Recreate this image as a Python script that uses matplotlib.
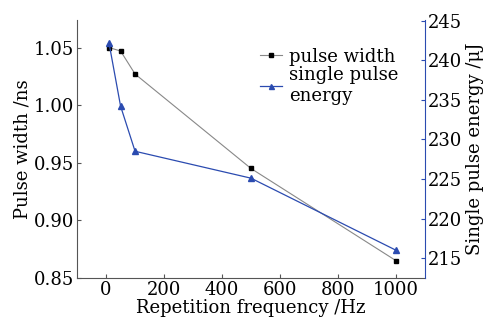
import matplotlib.pyplot as plt

freq = [10, 50, 100, 500, 1000]
pulse_width = [1.050, 1.047, 1.027, 0.945, 0.865]
pulse_energy = [242.2, 234.2, 228.5, 225.1, 216.0]

plt.rcParams['font.family'] = 'DejaVu Serif'
plt.rcParams['font.size'] = 13

fig, ax = plt.subplots(figsize=(5.04, 3.32), dpi=100)
fig.subplots_adjust(left=0.153, right=0.843, top=0.94, bottom=0.163)
ax2 = ax.twinx()

l1, = ax.plot(freq, pulse_width, color='#888888', linewidth=0.8, marker='s',
              markersize=3.5, markerfacecolor='black', markeredgecolor='black',
              label='pulse width')
l2, = ax2.plot(freq, pulse_energy, color='#2b4bb0', linewidth=0.9, marker='^',
               markersize=4.5, markerfacecolor='#2b4bb0', markeredgecolor='#2b4bb0',
               label='single pulse\nenergy')

ax.set_xlim(-100, 1100)
ax.set_ylim(0.85, 1.074)
ax2.set_ylim(212.5, 245.1)
ax.set_xticks([0, 200, 400, 600, 800, 1000])
ax.set_yticks([0.85, 0.90, 0.95, 1.00, 1.05])
ax.set_yticklabels(['0.85', '0.90', '0.95', '1.00', '1.05'])
ax2.set_yticks([215, 220, 225, 230, 235, 240, 245])

ax.set_xlabel('Repetition frequency /Hz', labelpad=0)
ax.set_ylabel('Pulse width /ns', labelpad=2)
ax2.set_ylabel('Single pulse energy /μJ', labelpad=3)

for a in (ax, ax2):
    a.spines['top'].set_visible(False)
ax.spines['right'].set_visible(False)
ax.spines['left'].set_color('#555555')
ax.spines['bottom'].set_color('#555555')
ax2.spines['left'].set_visible(False)
ax2.spines['bottom'].set_visible(False)
ax2.spines['right'].set_color('#2b4bb0')

ax.tick_params(direction='in', length=3, color='#555555', labelsize=13, pad=2)
ax2.tick_params(direction='in', length=3, color='#2b4bb0', labelsize=13, pad=2)

leg = ax.legend(handles=[l1, l2], loc='upper left', bbox_to_anchor=(0.48, 0.955),
                frameon=False, handlelength=1.2, handletextpad=0.4,
                labelspacing=0.0, markerscale=0.8, fontsize=13)

fig.savefig('out.png', dpi=100)
